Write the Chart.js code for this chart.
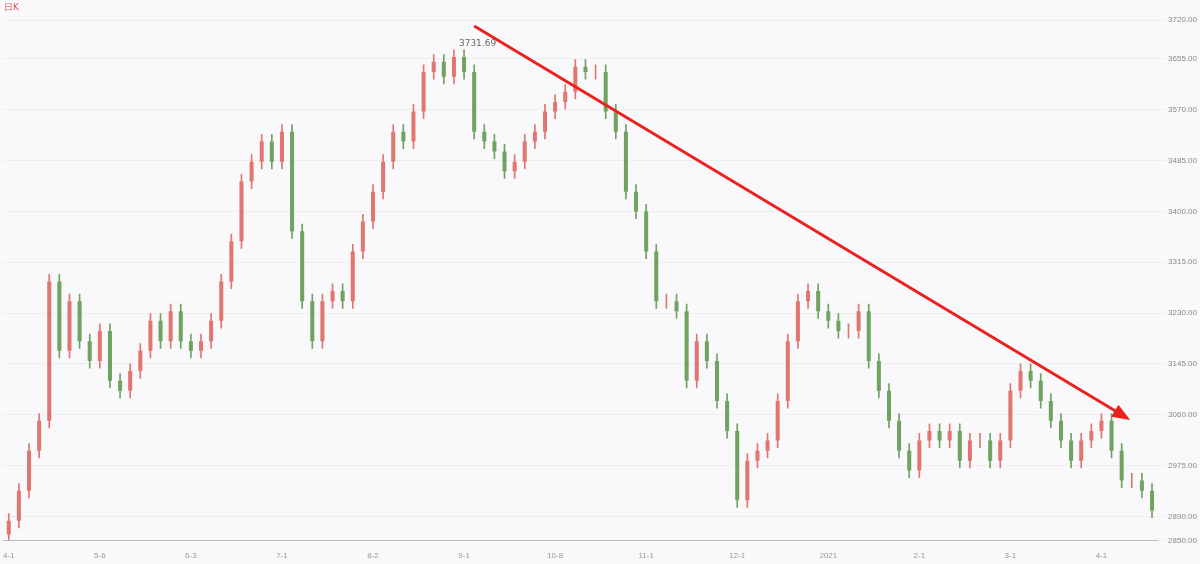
<!DOCTYPE html>
<html><head><meta charset="utf-8">
<script src="https://cdn.jsdelivr.net/npm/chart.js@4"></script>
<style>html,body{margin:0;background:#f9f9fb}#w{width:1200px;height:564px;position:relative}</style>
</head><body><div id="w"><canvas id="c"></canvas></div>
<script>
const closes=[2883,2933,3000,3050,3283,3167,3250,3183,3150,3200,3117,3100,3133,3167,3217,3183,3233,3183,3167,3183,3217,3283,3350,3450,3483,3517,3483,3533,3367,3250,3183,3250,3267,3250,3333,3383,3433,3483,3533,3517,3567,3633,3650,3625,3658,3633,3533,3517,3500,3467,3483,3517,3533,3567,3583,3600,3642,3633,3633,3567,3533,3433,3400,3333,3250,3250,3233,3117,3183,3150,3083,3033,2917,2983,3000,3017,3083,3183,3250,3267,3233,3217,3200,3200,3233,3150,3100,3050,3000,2967,3017,3033,3017,3033,2983,3017,3017,2983,3017,3100,3133,3117,3083,3050,3017,2983,3017,3033,3050,3000,2950,2950,2933,2900];
const opens=[2860].concat(closes.slice(0,-1));
const labels=closes.map((_,i)=>'');
const tickText={0:'4-1',9:'5-6',18:'6-3',27:'7-1',36:'8-2',45:'9-1',54:'10-8',63:'11-1',72:'12-1',81:'2021',90:'2-1',99:'3-1',108:'4-1'};
const trend=closes.map(()=>null);trend[46]=3710;trend[110]=3060;
const bodies=closes.map((c,i)=>[opens[i],c]);
const wicks=closes.map((c,i)=>[Math.min(opens[i],c)-12,Math.max(opens[i],c)+12]);
const col=closes.map((c,i)=>c>=opens[i]?'#e0766f':'#6fa35f');
const arrow={id:'arrow',afterDatasetsDraw(ch){const m=ch.getDatasetMeta(2).data;const a=m[46],b=m[110];const ctx=ch.ctx;const ang=Math.atan2(b.y-a.y,b.x-a.x);ctx.save();ctx.fillStyle='#e8231e';ctx.beginPath();ctx.moveTo(b.x+10*Math.cos(ang),b.y+10*Math.sin(ang));ctx.lineTo(b.x-8*Math.cos(ang)+7*Math.sin(ang),b.y-8*Math.sin(ang)-7*Math.cos(ang));ctx.lineTo(b.x-8*Math.cos(ang)-7*Math.sin(ang),b.y-8*Math.sin(ang)+7*Math.cos(ang));ctx.fill();ctx.font='9px DejaVu Sans';ctx.fillStyle='#666';ctx.fillText('3731.69',m[44].x+5,46);ctx.fillStyle='#d9534f';ctx.fillText('日K',4,10);ctx.restore();}};
new Chart(document.getElementById('c'),{data:{labels,datasets:[
{type:'bar',data:wicks,backgroundColor:col,barThickness:1,grouped:false,order:3},
{type:'bar',data:bodies,backgroundColor:col,barPercentage:0.4,categoryPercentage:1,grouped:false,order:2},
{type:'line',data:trend,spanGaps:true,borderColor:'#e8231e',borderWidth:3,pointRadius:0,order:1}]},
options:{responsive:true,maintainAspectRatio:false,animation:false,layout:{padding:{top:20,left:0,right:0,bottom:0}},
plugins:{legend:{display:false},tooltip:{enabled:false}},
scales:{x:{offset:true,grid:{display:false},border:{color:'#bbb'},ticks:{autoSkip:false,maxRotation:0,font:{size:8},color:'#999',callback:(v,i)=>tickText[i]??''}},
y:{position:'right',min:2850,max:3720,grid:{color:'#eeeeee'},border:{display:false},ticks:{stepSize:85,font:{size:8},color:'#888',callback:v=>v.toFixed(2)}}}},
plugins:[arrow]});
</script></body></html>
